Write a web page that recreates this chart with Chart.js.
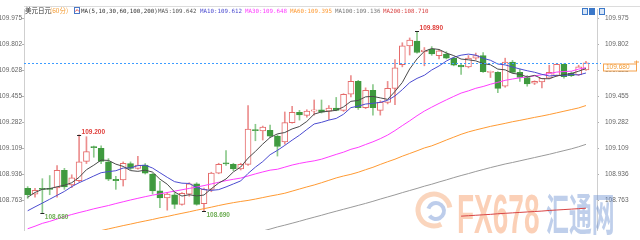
<!DOCTYPE html>
<html>
<head>
<meta charset="utf-8">
<script src="https://cdn.jsdelivr.net/npm/chart.js@4"></script>
<style>
  html, body { margin: 0; padding: 0; background: #fff; }
  #wrap { width: 640px; height: 240px; }
</style>
</head>
<body>
<div id="wrap"><canvas id="kline" width="640" height="240"></canvas></div>
<script>
// 美元日元 60分 K线
const opens = [
  108.843, 108.804, 108.843, 108.841, 108.846, 108.963, 108.865, 108.894, 109.023, 109.120,
  109.110, 109.019, 108.903, 108.899, 109.008, 108.976, 108.997, 108.938, 108.826, 108.778,
  108.800, 108.736, 108.804, 108.873, 108.740, 108.836, 108.944, 109.012, 109.002, 108.972,
  109.002, 109.232, 109.226, 109.229, 109.191, 109.152, 109.281, 109.350, 109.329, 109.358,
  109.367, 109.358, 109.378, 109.363, 109.470, 109.556, 109.380, 109.496, 109.363, 109.416,
  109.509, 109.668, 109.793, 109.825, 109.755, 109.771, 109.728, 109.739, 109.711, 109.664,
  109.653, 109.711, 109.728, 109.616, 109.616, 109.524, 109.685, 109.616, 109.582, 109.545,
  109.552, 109.577, 109.595, 109.670, 109.610, 109.599, 109.632];
const highs = [
  108.854, 108.843, 108.907, 108.928, 108.995, 108.976, 108.933, 109.200, 109.187, 109.125,
  109.126, 109.041, 108.923, 109.019, 109.019, 109.056, 109.008, 108.944, 108.890, 108.815,
  108.815, 108.815, 108.880, 108.880, 108.845, 108.950, 109.010, 109.094, 109.010, 109.010,
  109.395, 109.270, 109.258, 109.265, 109.200, 109.352, 109.389, 109.363, 109.367, 109.432,
  109.432, 109.395, 109.449, 109.474, 109.595, 109.563, 109.513, 109.535, 109.427, 109.556,
  109.702, 109.814, 109.846, 109.890, 109.782, 109.788, 109.770, 109.754, 109.717, 109.674,
  109.728, 109.745, 109.749, 109.625, 109.621, 109.711, 109.696, 109.638, 109.595, 109.560,
  109.577, 109.664, 109.674, 109.674, 109.621, 109.664, 109.690];
const lows = [
  108.776, 108.783, 108.680, 108.800, 108.783, 108.836, 108.847, 108.886, 109.008, 109.050,
  109.008, 108.894, 108.836, 108.858, 108.965, 108.970, 108.938, 108.804, 108.714, 108.697,
  108.708, 108.730, 108.790, 108.730, 108.690, 108.820, 108.940, 108.995, 108.960, 108.965,
  108.995, 109.160, 109.165, 109.180, 109.058, 109.137, 109.277, 109.298, 109.317, 109.331,
  109.345, 109.303, 109.360, 109.356, 109.453, 109.369, 109.374, 109.331, 109.331, 109.406,
  109.400, 109.653, 109.732, 109.745, 109.660, 109.730, 109.706, 109.706, 109.660, 109.603,
  109.646, 109.702, 109.616, 109.582, 109.481, 109.517, 109.610, 109.556, 109.524, 109.535,
  109.513, 109.573, 109.588, 109.577, 109.588, 109.595, 109.630];
const closes = [
  108.800, 108.830, 108.835, 108.836, 108.963, 108.852, 108.912, 109.019, 109.088, 109.114,
  109.023, 108.903, 108.894, 109.010, 108.976, 108.997, 108.944, 108.826, 108.778, 108.804,
  108.736, 108.809, 108.873, 108.736, 108.836, 108.944, 109.002, 109.005, 108.972, 109.002,
  109.238, 109.228, 109.251, 109.191, 109.122, 109.281, 109.350, 109.333, 109.358, 109.367,
  109.350, 109.378, 109.363, 109.470, 109.556, 109.380, 109.496, 109.380, 109.416, 109.509,
  109.646, 109.793, 109.831, 109.749, 109.765, 109.739, 109.760, 109.711, 109.664, 109.653,
  109.711, 109.728, 109.621, 109.621, 109.509, 109.685, 109.616, 109.582, 109.539, 109.556,
  109.577, 109.616, 109.670, 109.588, 109.595, 109.653, 109.680];

const ma5 = [
  108.783, 108.815, 108.836, 108.841, 108.853, 108.863, 108.880, 108.916, 108.967, 108.997,
  109.031, 109.029, 109.004, 108.989, 108.961, 108.956, 108.964, 108.951, 108.904, 108.870,
  108.818, 108.791, 108.800, 108.792, 108.798, 108.840, 108.878, 108.905, 108.952, 108.985,
  109.044, 109.089, 109.138, 109.182, 109.206, 109.215, 109.239, 109.255, 109.289, 109.338,
  109.352, 109.357, 109.363, 109.386, 109.423, 109.429, 109.453, 109.456, 109.446, 109.436,
  109.489, 109.549, 109.639, 109.706, 109.757, 109.775, 109.769, 109.745, 109.728, 109.705,
  109.700, 109.693, 109.675, 109.667, 109.638, 109.633, 109.610, 109.603, 109.586, 109.596,
  109.574, 109.574, 109.592, 109.601, 109.609, 109.624, 109.642];
const ma10 = [
  108.693, 108.719, 108.744, 108.770, 108.796, 108.822, 108.854, 108.880, 108.902, 108.925,
  108.947, 108.954, 108.960, 108.978, 108.979, 108.994, 108.997, 108.978, 108.947, 108.916,
  108.887, 108.877, 108.875, 108.848, 108.834, 108.829, 108.834, 108.852, 108.872, 108.892,
  108.942, 108.984, 109.021, 109.067, 109.096, 109.129, 109.164, 109.197, 109.235, 109.272,
  109.283, 109.298, 109.309, 109.337, 109.381, 109.391, 109.405, 109.410, 109.416, 109.430,
  109.459, 109.501, 109.548, 109.576, 109.597, 109.632, 109.659, 109.692, 109.717, 109.731,
  109.738, 109.731, 109.710, 109.697, 109.672, 109.666, 109.652, 109.639, 109.627, 109.617,
  109.603, 109.592, 109.597, 109.594, 109.602, 109.599, 109.612];
const ma30 = [
  108.573, 108.590, 108.609, 108.622, 108.638, 108.654, 108.668, 108.681, 108.693, 108.706,
  108.717, 108.728, 108.741, 108.753, 108.765, 108.776, 108.787, 108.797, 108.806, 108.815,
  108.824, 108.833, 108.842, 108.851, 108.861, 108.872, 108.883, 108.894, 108.903, 108.911,
  108.925, 108.939, 108.952, 108.964, 108.970, 108.984, 108.998, 109.009, 109.018, 109.026,
  109.037, 109.053, 109.069, 109.084, 109.103, 109.116, 109.135, 109.153, 109.174, 109.198,
  109.228, 109.261, 109.293, 109.327, 109.358, 109.384, 109.409, 109.433, 109.456, 109.478,
  109.493, 109.510, 109.522, 109.537, 109.550, 109.563, 109.572, 109.580, 109.586, 109.593,
  109.600, 109.608, 109.618, 109.622, 109.624, 109.638, 109.648];
const ma60 = [
  null, null, null, null, null, null, null, null, null, null,
  108.561, 108.572, 108.583, 108.594, 108.604, 108.615, 108.625, 108.635, 108.646, 108.655,
  108.666, 108.676, 108.686, 108.697, 108.707, 108.717, 108.728, 108.738, 108.747, 108.755,
  108.762, 108.771, 108.781, 108.791, 108.800, 108.810, 108.824, 108.838, 108.852, 108.865,
  108.880, 108.896, 108.912, 108.925, 108.936, 108.950, 108.967, 108.983, 109.002, 109.020,
  109.037, 109.057, 109.075, 109.093, 109.112, 109.126, 109.145, 109.165, 109.184, 109.203,
  109.219, 109.232, 109.244, 109.256, 109.266, 109.276, 109.287, 109.296, 109.306, 109.316,
  109.325, 109.335, 109.346, 109.357, 109.368, 109.379, 109.395];
const ma100 = [
  null, null, null, null, null, null, null, null, null, null,
  null, null, null, null, null, null, null, null, null, null,
  null, null, null, null, null, null, null, null, null, null,
  null, null, 108.558, 108.571, 108.585, 108.597, 108.610, 108.623, 108.637, 108.650,
  108.663, 108.677, 108.690, 108.703, 108.716, 108.729, 108.742, 108.756, 108.771, 108.785,
  108.799, 108.814, 108.828, 108.842, 108.857, 108.870, 108.885, 108.899, 108.914, 108.928,
  108.941, 108.955, 108.968, 108.981, 108.993, 109.005, 109.015, 109.026, 109.037, 109.048,
  109.059, 109.070, 109.082, 109.094, 109.106, 109.120, 109.136];
const ma200 = [
  null, null, null, null, null, null, null, null, null, null,
  null, null, null, null, null, null, null, null, null, null,
  null, null, null, null, null, null, null, null, null, null,
  null, null, null, null, null, null, null, null, null, null,
  null, null, null, null, null, null, null, null, null, null,
  null, null, null, null, null, null, null, null, null, 108.657,
  108.660, 108.663, 108.666, 108.669, 108.673, 108.676, 108.679, 108.682, 108.685, 108.688,
  108.691, 108.695, 108.698, 108.701, 108.704, 108.707, 108.710];

const yTicks = [108.763, 108.936, 109.109, 109.282, 109.455, 109.628, 109.802, 109.975];
const yMin = 108.564;
const yMax = 110.033;

// marked extremes: candle index (0-based) and which end
const markIdx = [7, 2, 24, 53];
const markType = ['high', 'low', 'low', 'high'];

const maNames = ['MA5', 'MA10', 'MA30', 'MA60', 'MA100', 'MA200'];
const maColors = ['#4a4a4a', '#4b4bd0', '#ff3cff', '#ff9a33', '#9a9a9a', '#d84444'];

const n = closes.length;
const labels = closes.map((c, i) => String(i + 1));
labels.push(''); // one empty slot at the right edge
const isUp = closes.map((c, i) => c >= opens[i]);

const maSeries = [ma5, ma10, ma30, ma60, ma100, ma200];
const lineSets = maSeries.map((arr, k) => ({
  type: 'line',
  label: maNames[k],
  data: arr,
  borderColor: maColors[k],
  borderWidth: 1,
  pointRadius: 0,
  tension: 0,
  spanGaps: false,
  order: 0
}));

const font = '"Liberation Sans", Arial, sans-serif';

// title, watermark, price marker and extreme labels
const decor = {
  id: 'decor',
  beforeDatasetsDraw(chart) {
    const ctx = chart.ctx;
    ctx.save();
    // watermark logo
    ctx.lineWidth = 5;
    ctx.strokeStyle = 'rgba(243,150,90,0.40)';
    ctx.beginPath();
    ctx.arc(434, 210, 16, 0.35 * Math.PI, 1.95 * Math.PI);
    ctx.stroke();
    ctx.lineWidth = 4;
    ctx.strokeStyle = 'rgba(90,130,205,0.40)';
    ctx.beginPath();
    ctx.arc(436, 211, 8, -0.9 * Math.PI, 0.8 * Math.PI);
    ctx.stroke();
    // FX678
    ctx.save();
    ctx.translate(457, 233);
    ctx.scale(0.5, 1);
    ctx.font = 'bold 56px ' + font;
    ctx.fillStyle = 'rgba(246,150,95,0.45)';
    ctx.fillText('FX678', 0, 0);
    ctx.restore();
    // 汇通网
    ctx.save();
    ctx.translate(546, 231);
    ctx.scale(0.52, 1);
    ctx.font = 'bold 44px "Noto Sans CJK SC"';
    ctx.fillStyle = 'rgba(95,135,205,0.40)';
    ctx.fillText('汇通网', 0, 0);
    ctx.restore();
    ctx.restore();
  },
  afterDraw(chart) {
    const ctx = chart.ctx;
    const area = chart.chartArea;
    const xs = chart.scales.x;
    const ys = chart.scales.y;
    ctx.save();

    // top frame line
    ctx.strokeStyle = '#dcdcdc';
    ctx.lineWidth = 1;
    ctx.beginPath();
    ctx.moveTo(area.left, 6.5);
    ctx.lineTo(640, 6.5);
    ctx.stroke();

    // current price dashed line
    const last = closes[n - 1];
    const py = Math.round(ys.getPixelForValue(last)) + 0.5;
    ctx.strokeStyle = '#3d9cff';
    ctx.setLineDash([2, 2]);
    ctx.beginPath();
    ctx.moveTo(area.left, py);
    ctx.lineTo(601, py);
    ctx.stroke();
    ctx.setLineDash([]);

    // price box on the right axis
    ctx.fillStyle = '#fff';
    ctx.fillRect(603.5, py + 0.5, 33, 7);
    ctx.strokeStyle = '#f5a24c';
    ctx.strokeRect(603.5, py + 0.5, 33, 7);
    ctx.fillStyle = '#f39a30';
    ctx.font = '6.5px ' + font;
    ctx.textBaseline = 'middle';
    ctx.textAlign = 'left';
    ctx.fillText(last.toFixed(3), 606, py + 4.2);
    ctx.beginPath();
    ctx.moveTo(636.5, py - 3);
    ctx.lineTo(636.5, py + 2);
    ctx.moveTo(634, py - 1.5);
    ctx.lineTo(639, py - 1.5);
    ctx.stroke();

    // extreme labels
    ctx.font = 'bold 6.5px ' + font;
    markIdx.forEach((i, k) => {
      const x = xs.getPixelForValue(i);
      const hi = markType[k] === 'high';
      const v = hi ? highs[i] : lows[i];
      const y = ys.getPixelForValue(v);
      ctx.strokeStyle = '#222';
      ctx.beginPath();
      ctx.moveTo(x - 2, Math.round(y) + 0.5);
      ctx.lineTo(x + 2, Math.round(y) + 0.5);
      ctx.stroke();
      ctx.fillStyle = hi ? '#e0413d' : '#6fae55';
      ctx.fillText(v.toFixed(3), x + 2.5, hi ? y - 3 : y + 4);
    });

    // title row
    const parts = [
      ['美元日元', 25, '#333333', '6.5px "Noto Sans CJK SC"'],
      ['(60分)', 50, '#f39a30', '6.5px "Noto Sans CJK SC"']
    ];
    parts.forEach(p => {
      ctx.font = p[3];
      ctx.fillStyle = p[2];
      ctx.fillText(p[0], p[1], 11);
    });
    // small indicator icon
    ctx.strokeStyle = '#4a78c8';
    ctx.strokeRect(74.5, 7.5, 5, 6);
    ctx.strokeStyle = '#e05050';
    ctx.beginPath();
    ctx.moveTo(75.5, 11.5);
    ctx.lineTo(77, 9.5);
    ctx.lineTo(79, 11.5);
    ctx.stroke();

    const mono = '5.8px "DejaVu Sans Mono", monospace';
    ctx.font = mono;
    ctx.fillStyle = '#333';
    ctx.fillText('MA(5,10,30,60,100,200)', 81, 11);
    const maX = [158, 200, 245, 290, 335, 383];
    maSeries.forEach((arr, k) => {
      ctx.fillStyle = k === 0 ? '#555555' : (k === 4 ? '#777777' : maColors[k]);
      ctx.fillText(maNames[k] + ':' + arr[arr.length - 1].toFixed(3), maX[k], 11);
    });

    // top-right buttons
    const bx = [582, 589, 599];
    bx.forEach((x, k) => {
      ctx.fillStyle = k === 1 ? '#3b78c9' : '#d6e4f6';
      ctx.fillRect(x, 8, 6, 7);
      ctx.strokeStyle = '#3b78c9';
      ctx.strokeRect(x + 0.5, 8.5, 5, 6);
    });

    ctx.restore();
  }
};

const axisTicks = {
  font: { size: 6.5, family: font },
  color: '#666',
  callback: v => Number(v).toFixed(3)
};

new Chart(document.getElementById('kline').getContext('2d'), {
  data: {
    labels: labels,
    datasets: [
      ...lineSets,
      {
        type: 'bar',
        label: 'body',
        data: opens.map((o, i) => [o, closes[i]]),
        backgroundColor: isUp.map(u => u ? '#ffffff' : '#3f9a3f'),
        borderColor: isUp.map(u => u ? '#e56b6b' : '#3f9a3f'),
        borderWidth: 1,
        borderSkipped: false,
        barThickness: 6,
        minBarLength: 1,
        grouped: false,
        order: 1
      },
      {
        type: 'bar',
        label: 'wick',
        data: lows.map((l, i) => [l, highs[i]]),
        backgroundColor: isUp.map(u => u ? '#ec8e8e' : '#8cc98c'),
        borderWidth: 0,
        barThickness: 1,
        grouped: false,
        order: 2
      }
    ]
  },
  options: {
    responsive: false,
    animation: false,
    events: [],
    layout: { padding: { top: 6, bottom: 6, left: 0, right: 0 } },
    plugins: {
      legend: { display: false },
      tooltip: { enabled: false },
      title: { display: false }
    },
    scales: {
      x: { display: false, offset: true, grid: { display: false } },
      y: {
        position: 'left',
        min: yMin,
        max: yMax,
        afterBuildTicks: s => { s.ticks = yTicks.map(v => ({ value: v })); },
        afterFit: s => { s.width = 24; },
        ticks: { ...axisTicks, padding: 0 },
        grid: { drawOnChartArea: false, tickLength: 2, color: '#b0b0b0' },
        border: { color: '#cfcfcf' }
      },
      y2: {
        position: 'right',
        min: yMin,
        max: yMax,
        afterBuildTicks: s => { s.ticks = yTicks.map(v => ({ value: v })); },
        afterFit: s => { s.width = 43; },
        ticks: { ...axisTicks, padding: 6 },
        grid: { drawOnChartArea: false, tickLength: 2, color: '#b0b0b0' },
        border: { color: '#cfcfcf' }
      }
    }
  },
  plugins: [decor]
});
</script>
</body>
</html>
